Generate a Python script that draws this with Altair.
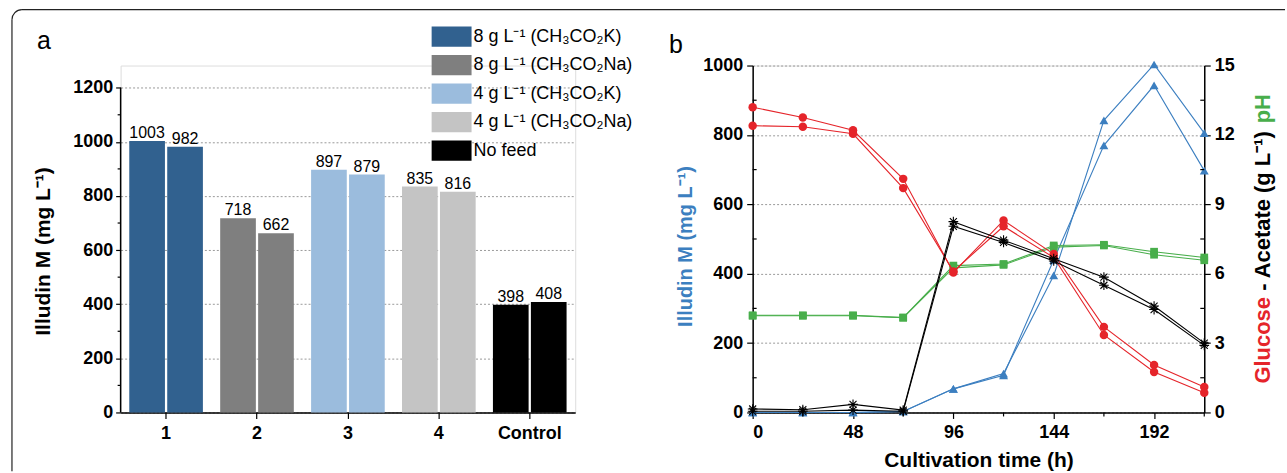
import math
import altair as alt
import pandas as pd

# ---------------- data: panel a ----------------
groups = ["1", "2", "3", "4", "Control"]
treatments = ["8 g L⁻¹ (CH₃CO₂K)", "8 g L⁻¹ (CH₃CO₂Na)", "4 g L⁻¹ (CH₃CO₂K)",
              "4 g L⁻¹ (CH₃CO₂Na)", "No feed"]
rep1 = [1003, 718, 897, 835, 398]
rep2 = [982, 662, 879, 816, 408]
bar_colors = ["#31618F", "#7F7F7F", "#9BBCDD", "#C4C4C4", "#000000"]

# ---------------- data: panel b ----------------
times = [0, 24, 48, 72, 96, 120, 144, 168, 192, 216]
illudin_a = [0, 0, 0, 3, 68, 112, 395, 842, 1003, 805]
illudin_b = [0, 0, 0, 3, 68, 107, 440, 770, 943, 697]
glucose_a = [13.2, 12.75, 12.2, 10.1, 6.05, 8.3, 6.85, 3.7, 2.05, 1.1]
glucose_b = [12.4, 12.35, 12.05, 9.7, 6.1, 8.05, 6.7, 3.35, 1.75, 0.85]
acetate_a = [0.15, 0.12, 0.35, 0.1, 8.25, 7.45, 6.65, 5.85, 4.6, 3.0]
acetate_b = [0.05, 0.05, 0.1, 0.05, 8.05, 7.35, 6.55, 5.5, 4.45, 2.9]
ph_a = [4.2, 4.2, 4.2, 4.1, 6.35, 6.42, 7.22, 7.25, 6.95, 6.7]
ph_b = [4.18, 4.18, 4.18, 4.1, 6.25, 6.38, 7.15, 7.22, 6.82, 6.58]

left_ticks_major = [0, 200, 400, 600, 800, 1000, 1200]
left_ticks_minor = [100, 300, 500, 700, 900, 1100]
b_left_major = [0, 200, 400, 600, 800, 1000]
b_left_minor = [100, 300, 500, 700, 900]
b_right_major = [0, 3, 6, 9, 12, 15]
b_right_minor = [1.5, 4.5, 7.5, 10.5, 13.5]
time_major = [0, 48, 96, 144, 192]
time_minor = [24, 72, 120, 168, 216]

RED = "#E5242A"
BLUE = "#3C7FC0"
GREEN = "#48AE4B"
BLACK = "#000000"

LBL_FONT = "Liberation Sans"
TXT_FONT = "Liberation Sans"
LBL_SIZE = 18

W_L, W_R, H = 456, 453, 348
YMAX_L = 1282

# ================= panel a =================
rows = []
for g, t, v1, v2 in zip(groups, treatments, rep1, rep2):
    rows.append({"group": g, "treatment": t, "rep": "r1", "value": v1})
    rows.append({"group": g, "treatment": t, "rep": "r2", "value": v2})
bars_df = pd.DataFrame(rows)

xa = alt.X("group:N", sort=groups,
           scale=alt.Scale(paddingInner=0.19, paddingOuter=0.095),
           axis=alt.Axis(title=None, labelAngle=0, labelFont=LBL_FONT, labelFontWeight="bold",
                         labelFontSize=LBL_SIZE, labelColor="black", labelPadding=6, tickSize=6,
                         tickColor="black", tickWidth=1.2, domainColor="black", domainWidth=1.5,
                         grid=False))
ya = alt.Y("value:Q", scale=alt.Scale(domain=[0, YMAX_L], nice=False, zero=True),
           axis=alt.Axis(values=left_ticks_major, format="d", title="Illudin M (mg L⁻¹)",
                         titleFont=TXT_FONT, titleFontSize=21, titleFontWeight="bold",
                         titleColor="black", titleAngle=270, titleX=-77, titleY=186,
                         titleAlign="center", titleBaseline="middle",
                         labelFont=LBL_FONT, labelFontWeight="bold", labelFontSize=LBL_SIZE,
                         labelColor="black", labelPadding=3, tickSize=5, tickColor="black",
                         tickWidth=1.2, domain=False, grid=True, gridColor="#9A9A9A",
                         gridDash=[2, 2], gridWidth=1))

bars = alt.Chart(bars_df).mark_bar(stroke=None).encode(
    x=xa,
    xOffset=alt.XOffset("rep:N", scale=alt.Scale(paddingInner=0.06)),
    y=ya,
    color=alt.Color("treatment:N", sort=treatments,
                    scale=alt.Scale(domain=treatments, range=bar_colors),
                    legend=alt.Legend(title=None, orient="none", legendX=318, legendY=-43,
                                      symbolType="M-1.43,-0.72H1.43V0.72H-1.43Z",
                                      symbolSize=784, symbolStrokeWidth=0, symbolOpacity=1,
                                      labelFont=TXT_FONT, labelFontSize=18, labelColor="black",
                                      labelOffset=8, rowPadding=3.6, padding=0,
                                      labelLimit=300)),
)
bar_labels = alt.Chart(bars_df).mark_text(baseline="alphabetic", dy=-3, font=TXT_FONT,
                                          fontSize=16, color="black").encode(
    x=xa, xOffset=alt.XOffset("rep:N"), y=ya, text="value:Q")

ytick_df = pd.DataFrame({"value": left_ticks_minor})
yminor = alt.Chart(ytick_df).mark_rule(color="black", strokeWidth=1.2).encode(
    y=ya, x=alt.value(-3), x2=alt.value(0))
ydomain = alt.Chart(pd.DataFrame({"value": [0], "v2": [1200]})).mark_rule(
    color="black", strokeWidth=1.5).encode(y=ya, y2="v2:Q", x=alt.value(0))

one = pd.DataFrame({"k": [0]})
label_a = alt.Chart(one).mark_text(align="left", baseline="alphabetic", font=TXT_FONT,
                                   fontSize=25, color="black").encode(
    x=alt.value(-84), y=alt.value(-17), text=alt.value("a"))
frame_top = alt.Chart(one).mark_rule(color="#222", strokeWidth=1.2).encode(
    x=alt.value(-99), x2=alt.value(1168), y=alt.value(-56))
frame_left = alt.Chart(one).mark_rule(color="#222", strokeWidth=1.2).encode(
    y=alt.value(-46), y2=alt.value(407), x=alt.value(-109))
frame_corner = alt.Chart(one).mark_arc(fillOpacity=0, stroke="#222", strokeWidth=1.2).encode(
    x=alt.value(-99), y=alt.value(-46), radius=alt.value(10), radius2=alt.value(10),
    theta=alt.value(3 * math.pi / 2), theta2=alt.value(2 * math.pi))

panel_a = alt.layer(bars, bar_labels, yminor, ydomain, label_a,
                    frame_top, frame_left, frame_corner).properties(width=W_L, height=H)

# ================= panel b =================
def long_df(a, b):
    r = []
    for t, va, vb in zip(times, a, b):
        r.append({"time": t, "value": va, "rep": "A"})
        r.append({"time": t, "value": vb, "rep": "B"})
    return pd.DataFrame(r)

ill_df = long_df(illudin_a, illudin_b)
glu_df = long_df(glucose_a, glucose_b)
ace_df = long_df(acetate_a, acetate_b)
ph_df = long_df(ph_a, ph_b)

xb = alt.X("time:Q", scale=alt.Scale(domain=[0, 216], nice=False),
           axis=alt.Axis(values=time_major, format="d", title="Cultivation time (h)",
                         titleFont=TXT_FONT, titleFontSize=21, titleFontWeight="bold",
                         titleColor="black", titlePadding=8,
                         labelFont=LBL_FONT, labelFontWeight="bold", labelFontSize=LBL_SIZE,
                         labelColor="black", labelPadding=5, tickSize=6, tickColor="black",
                         tickWidth=1.2, domainColor="black", domainWidth=1.5, grid=False))
yl = alt.Y("value:Q", scale=alt.Scale(domain=[0, 1000], nice=False),
           axis=alt.Axis(values=b_left_major, format="d", title="Illudin M (mg L⁻¹)",
                         titleFont=TXT_FONT, titleFontSize=20, titleFontWeight="bold",
                         titleColor=BLUE, titleAngle=270, titleX=-67, titleY=181,
                         titleAlign="center", titleBaseline="middle",
                         labelFont=LBL_FONT, labelFontWeight="bold", labelFontSize=LBL_SIZE,
                         labelColor="black", labelPadding=4, tickSize=6, tickColor="black",
                         tickWidth=1.2, domainColor="black", domainWidth=1.5, grid=True,
                         gridColor="#9A9A9A", gridDash=[2, 2], gridWidth=1))
yr = alt.Y("value:Q", scale=alt.Scale(domain=[0, 15], nice=False),
           axis=alt.Axis(values=b_right_major, format="d", orient="right", title=None,
                         labelFont=LBL_FONT, labelFontWeight="bold", labelFontSize=LBL_SIZE,
                         labelColor="black", labelPadding=4, tickSize=6, tickColor="black",
                         tickWidth=1.2, domainColor="black", domainWidth=1.5, grid=False))

ASTER = "M-1,0H1M0,-1V1M-0.72,-0.72L0.72,0.72M-0.72,0.72L0.72,-0.72"

def series(df, y, color, shape, size, filled=True):
    line = alt.Chart(df).mark_line(color=color, strokeWidth=1.1).encode(
        x=xb, y=y, detail="rep:N")
    if filled:
        pts = alt.Chart(df).mark_point(shape=shape, filled=True, size=size, color=color,
                                       opacity=1).encode(x=xb, y=y, detail="rep:N")
    else:
        pts = alt.Chart(df).mark_point(shape=shape, filled=False, size=size, color=color,
                                       strokeWidth=1.1, opacity=1).encode(
            x=xb, y=y, detail="rep:N")
    return [line, pts]

bl_minor = alt.Chart(pd.DataFrame({"value": b_left_minor})).mark_rule(
    color="black", strokeWidth=1.2).encode(y=yl, x=alt.value(0), x2=alt.value(4))
br_minor = alt.Chart(pd.DataFrame({"value": b_right_minor})).mark_rule(
    color="black", strokeWidth=1.2).encode(y=yr, x=alt.value(W_R - 4), x2=alt.value(W_R))
t_minor = alt.Chart(pd.DataFrame({"time": time_minor})).mark_rule(
    color="black", strokeWidth=1.2).encode(x=xb, y=alt.value(H), y2=alt.value(H + 4))

label_b = alt.Chart(one).mark_text(align="left", baseline="alphabetic", font=TXT_FONT,
                                   fontSize=25, color="black").encode(
    x=alt.value(-84), y=alt.value(-13), text=alt.value("b"))

TX = 512
def rtitle(text, color, ypos):
    return alt.Chart(one).mark_text(align="left", baseline="middle", angle=270,
                                    font=TXT_FONT, fontSize=22, fontWeight="bold",
                                    color=color).encode(
        x=alt.value(TX), y=alt.value(ypos), text=alt.value(text))

rt1 = rtitle("Glucose", RED, 319)
rt2 = rtitle("- Acetate (g L⁻¹)", BLACK, 226)
rt3 = rtitle("pH", GREEN, 58)

left_group = alt.layer(*series(ill_df, yl, BLUE, "triangle-up", 80), bl_minor, t_minor,
                       label_b)
right_group = alt.layer(*series(ph_df, yr, GREEN, "square", 60),
                        *series(glu_df, yr, RED, "circle", 72),
                        *series(ace_df, yr, BLACK, ASTER, 95, filled=False),
                        br_minor, rt1, rt2, rt3)

panel_b = alt.layer(left_group, right_group).resolve_scale(y="independent").properties(
    width=W_R, height=H)

chart = alt.hconcat(panel_a, panel_b, spacing=178, bounds="flush").properties(
    padding={"left": 9, "top": 6, "right": 0, "bottom": 0}
).configure_view(stroke=None).configure(background="white")

chart.save("out.html", embed_options={"renderer": "svg", "actions": False})
